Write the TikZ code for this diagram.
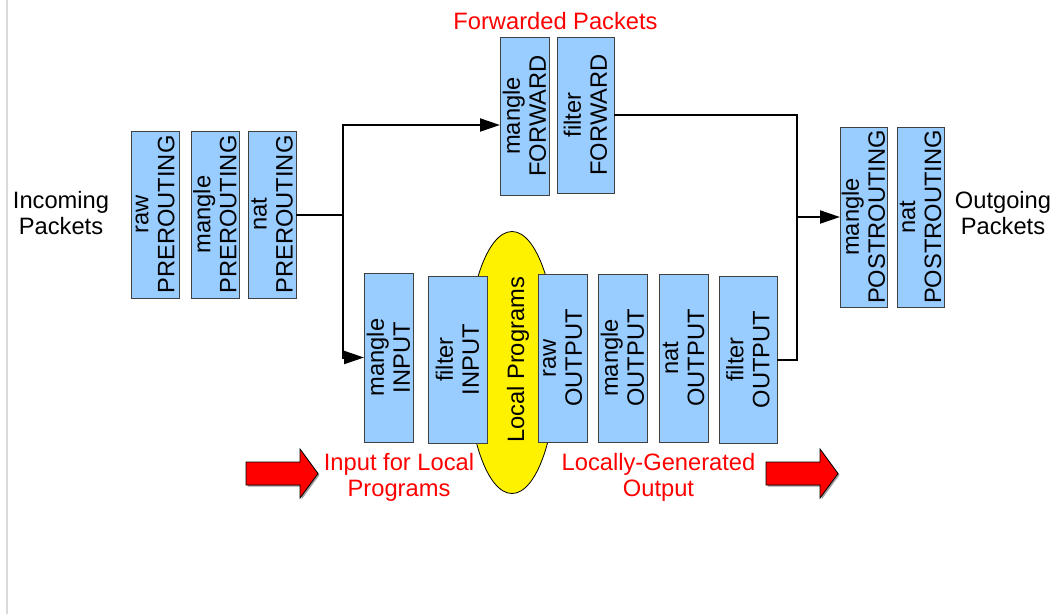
\documentclass[tikz,border=0pt]{standalone}
\usepackage{fontspec}
\setmainfont{Liberation Sans}
\usetikzlibrary{arrows.meta,shapes.geometric}
\definecolor{boxblue}{HTML}{99CCFF}
\definecolor{sepgrey}{HTML}{D9D9D9}
\newcommand\chainbox[6]{%
  \node[box, minimum width={#4-#2}, minimum height={#5-#3}] (#1) at ({(#2+#4)/2},{(#3+#5)/2}) {};
  \node[boxtxt] at (#1.center) {#6};}
\begin{document}
\begin{tikzpicture}[x=1pt,y=-1pt,
  txt/.style={font=\fontsize{23.7}{26}\selectfont, align=center, inner sep=0pt},
  boxtxt/.style={txt, rotate=90},
  box/.style={draw=black!75, line width=0.8pt, fill=boxblue, inner sep=0pt, outer sep=0pt},
  arr/.style={-{Triangle[length=20pt,width=13pt]}, line width=2pt},
  conn/.style={line width=2pt},
  fatarrow/.pic={
    \fill[black!40] (1.5,-10) -- (55.5,-10) -- (55.5,-23) -- (73.5,1.5) -- (55.5,26) -- (55.5,13) -- (1.5,13) -- cycle;
    \draw[fill=red, line width=0.8pt] (0,-11.5) -- (54,-11.5) -- (54,-24.5) -- (72,0) -- (54,24.5) -- (54,11.5) -- (0,11.5) -- cycle;
  }]
\useasboundingbox (0,0) rectangle (1057,614);
\fill[white] (0,0) rectangle (1057,614);
\draw[sepgrey, line width=2pt] (7,0) -- (7,614);

% local programs ellipse (behind boxes)
\node[ellipse, draw=black, line width=0.8pt, fill=yellow, minimum width=90, minimum height=262, inner sep=0pt] (lp) at (512,362.5) {};
\node[boxtxt] (lptxt) at (518,360) {Local Programs};

% chains
\chainbox{rawpre}{131}{131}{179}{298}{raw\\PREROUTING}
\chainbox{manglepre}{191}{131}{239}{298}{mangle\\PREROUTING}
\chainbox{natpre}{248}{131}{296}{298}{nat\\PREROUTING}
\chainbox{mfwd}{500}{37}{549}{195}{mangle\\FORWARD}
\chainbox{ffwd}{557}{37}{614}{193}{filter\\FORWARD}
\chainbox{minput}{364}{273}{413}{442}{mangle\\INPUT}
\chainbox{finput}{428}{276}{487}{443}{filter\\INPUT}
\chainbox{rawout}{538}{274}{587}{442}{raw\\OUTPUT}
\chainbox{mangleout}{598}{274}{647}{442}{mangle\\OUTPUT}
\chainbox{natout}{659}{274}{708}{442}{nat\\OUTPUT}
\chainbox{fout}{719}{276}{777}{443}{filter\\OUTPUT}
\chainbox{mpost}{840}{127}{887}{307}{mangle\\POSTROUTING}
\chainbox{npost}{897}{127}{944}{307}{nat\\POSTROUTING}

% texts
\node[txt] (inc) at (61,213) {Incoming\\Packets};
\node[txt] (outg) at (1003,213) {Outgoing\\Packets};
\node[txt, text=red, anchor=base] (fwdtxt) at (555.5,29) {Forwarded Packets};
\node[txt, text=red] (intxt) at (399,477) {Input for Local\\Programs};
\node[txt, text=red] (loctxt) at (658.5,477) {Locally-Generated\\Output};

% big red arrows
\pic at (246,473.5) {fatarrow};
\pic at (766,473.5) {fatarrow};

% connectors
\coordinate (split) at (343,214.5);
\coordinate (ftop) at (343,125);
\draw[conn] (natpre.east) -- (split);
\draw[arr] (split) -- (ftop) -- (ftop -| mfwd.west);
\draw[arr] (split) |- (minput.west);
\coordinate (join) at (797,217);
\draw[conn] (ffwd.east) -| (join);
\draw[conn] (fout.east) -| (join);
\draw[arr] (join) -- (mpost.west);
\end{tikzpicture}
\end{document}
